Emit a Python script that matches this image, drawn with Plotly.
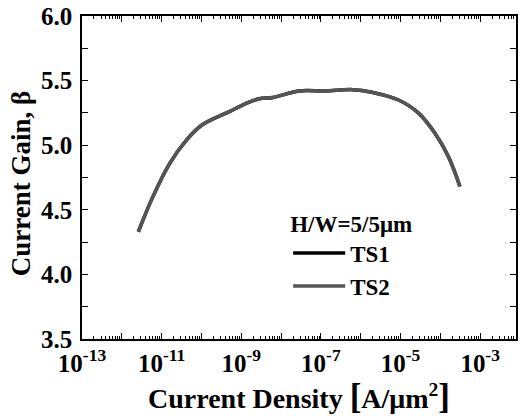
import plotly.graph_objects as go

# Current density [A/um^2] and current gain beta
current_density = [2.6e-12, 6.0e-12, 1.6e-11, 4.2e-11, 1.07e-10, 5.0e-10, 1.26e-9,
                   2.8e-9, 6.3e-9, 2.8e-8, 1.26e-7, 6.3e-7, 1.9e-6, 8.9e-6,
                   2.8e-5, 7.4e-5, 1.6e-4, 3.1e-4]
gain_ts1 = [4.33, 4.60, 4.86, 5.04, 5.16, 5.26, 5.32, 5.36, 5.37, 5.42, 5.42, 5.43,
            5.41, 5.35, 5.25, 5.09, 4.91, 4.68]
gain_ts2 = [4.33, 4.60, 4.86, 5.04, 5.16, 5.26, 5.32, 5.36, 5.37, 5.42, 5.42, 5.43,
            5.41, 5.35, 5.25, 5.09, 4.91, 4.68]

labeled_exponents = [-13, -11, -9, -7, -5, -3]
unlabeled_exponents = [-12, -10, -8, -6, -4]
y_ticks = [3.5, 4.0, 4.5, 5.0, 5.5, 6.0]

FONT = "Liberation Serif"
X_RANGE = [-13, -2.1]

fig = go.Figure()
fig.add_trace(go.Scatter(x=current_density, y=gain_ts1, mode="lines", name="<b>TS1</b>",
                         line=dict(color="#000000", width=3.5, shape="spline")))
fig.add_trace(go.Scatter(x=current_density, y=gain_ts2, mode="lines", name="<b>TS2</b>",
                         xaxis="x2",
                         line=dict(color="#555555", width=3.5, shape="spline")))

fig.update_layout(
    width=521, height=416,
    margin=dict(l=82, r=3, t=16, b=77),
    paper_bgcolor="white", plot_bgcolor="white",
    font=dict(family=FONT, color="black"),
    showlegend=True,
    legend=dict(
        x=0.475, y=0.425, xanchor="left", yanchor="top",
        bgcolor="rgba(0,0,0,0)",
        font=dict(family=FONT, size=23, color="black"),
        title=dict(text="<b>H/W=5/5μm</b>", font=dict(family=FONT, size=23), side="top"),
        itemwidth=52, tracegroupgap=0,
    ),
    xaxis=dict(
        type="log", range=X_RANGE,
        tickmode="array",
        tickvals=[10 ** e for e in labeled_exponents],
        ticktext=[f"<b>10<sup>{e}</sup></b>" for e in labeled_exponents],
        tickfont=dict(family=FONT, size=25),
        ticks="inside", ticklen=6, tickwidth=1, tickcolor="black",
        ticklabelstandoff=1,
        minor=dict(dtick="D1", ticks="inside", ticklen=3, tickcolor="black"),
        showline=True, linecolor="black", linewidth=1.5, mirror="allticks",
        showgrid=False, zeroline=False,
        title=dict(text="<b>Current Density <span style='font-size:35px'>[</span>A/μm<sup>2</sup><span style='font-size:35px'>]</span></b>",
                   font=dict(family=FONT, size=28), standoff=3),
    ),
    xaxis2=dict(
        type="log", range=X_RANGE, matches="x", overlaying="x", side="bottom", anchor="y",
        tickmode="array", tickvals=[10 ** e for e in unlabeled_exponents],
        showticklabels=False,
        ticks="inside", ticklen=6, tickwidth=1, tickcolor="black",
        showline=False, mirror="allticks", showgrid=False, zeroline=False,
    ),
    yaxis=dict(
        range=[3.5, 6.0],
        tickvals=y_ticks, ticktext=[f"<b>{v:.1f}</b>" for v in y_ticks],
        tickfont=dict(family=FONT, size=25),
        ticks="inside", ticklen=6, tickwidth=1, tickcolor="black",
        minor=dict(dtick=0.25, ticks="inside", ticklen=3, tickcolor="black"),
        showline=True, linecolor="black", linewidth=1.5, mirror="allticks",
        showgrid=False, zeroline=False, ticklabelstandoff=3,
    ),
    annotations=[dict(
        text="<b>Current Gain, β</b>", textangle=-90,
        xref="paper", yref="paper", x=-0.14, y=0.48,
        xanchor="center", yanchor="middle", showarrow=False,
        font=dict(family=FONT, size=27, color="black"),
    )],
)

fig.write_html("out.html")
